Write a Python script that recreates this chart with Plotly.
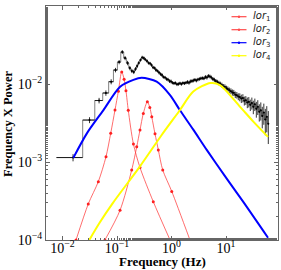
import plotly.graph_objects as go

# ---------------- data ----------------
freq = [0.0156, 0.0313, 0.0469, 0.0625, 0.0781, 0.0938, 0.1094, 0.125, 0.1406, 0.1563,
        0.1719, 0.1875, 0.2031, 0.2188, 0.2344, 0.25,
        0.27, 0.29, 0.31, 0.33, 0.355, 0.38, 0.405, 0.43, 0.46, 0.49, 0.52, 0.555, 0.59,
        0.63, 0.67, 0.71, 0.76, 0.81, 0.86, 0.92, 0.98, 1.04, 1.11, 1.18, 1.26, 1.34,
        1.43, 1.52, 1.62, 1.73, 1.84, 1.96, 2.09, 2.22, 2.37, 2.52, 2.69, 2.86, 3.05,
        3.25, 3.46, 3.69, 3.93, 4.19, 4.46, 4.75, 5.06, 5.39, 5.75, 6.12, 6.52, 6.95,
        7.4, 7.89, 8.4, 8.95, 9.54, 10.2, 10.8, 11.5, 12.3, 13.1, 13.9, 14.8, 15.8,
        16.8, 17.9, 19.1, 20.4, 21.7, 23.1, 24.6, 26.2, 27.9, 29.8, 31.7, 33.8, 36.0,
        38.3, 40.8, 43.5, 46.3, 49.4, 52.6, 56.0, 59.7]
power = [0.00114, 0.00345, 0.00614, 0.00767, 0.0107, 0.0151, 0.0191, 0.0257, 0.0215, 0.0186,
         0.0160, 0.0147, 0.0143, 0.0156, 0.0170, 0.0186,
         0.0203, 0.0219, 0.0215, 0.0206, 0.0197, 0.0186, 0.0183, 0.0175, 0.0163, 0.0160,
         0.0151, 0.0147, 0.0140, 0.0134, 0.0130, 0.0123, 0.0121, 0.0116, 0.0114, 0.0109,
         0.0108, 0.0104, 0.0102, 0.0103, 0.0099, 0.0100, 0.0102, 0.0100, 0.0103, 0.0102,
         0.0104, 0.0106, 0.0104, 0.0108, 0.0109, 0.0111, 0.0113, 0.0111, 0.0114, 0.0116,
         0.0118, 0.0119, 0.0118, 0.0123, 0.0121, 0.0127, 0.0125, 0.0121, 0.0116, 0.0113,
         0.0109, 0.0106, 0.0103, 0.0100, 0.0097, 0.0093, 0.0092, 0.0088, 0.0086, 0.0083,
         0.0081, 0.0078, 0.0077, 0.0073, 0.0072, 0.0069, 0.0068, 0.0065, 0.0066, 0.0061,
         0.0062, 0.0058, 0.0059, 0.0054, 0.0057, 0.0051, 0.0055, 0.0048, 0.0051, 0.0044,
         0.0046, 0.0039, 0.0043, 0.0035, 0.0038, 0.0031]
power_err = [0.00012, 0.0003, 0.0005, 0.0006, 0.0008, 0.0010, 0.0012, 0.0015, 0.0013, 0.0012,
             0.0010, 0.0009, 0.0009, 0.0009, 0.0010, 0.0010,
             0.0010, 0.0011, 0.0011, 0.0010, 0.0010, 0.0009, 0.0009, 0.0009, 0.0008, 0.0008,
             0.0008, 0.0007, 0.0007, 0.0007, 0.0007, 0.0006, 0.0006, 0.0006, 0.0006, 0.0006,
             0.0006, 0.0005, 0.0005, 0.0005, 0.0005, 0.0005, 0.0005, 0.0005, 0.0005, 0.0005,
             0.0005, 0.0006, 0.0006, 0.0006, 0.0006, 0.0006, 0.0006, 0.0006, 0.0006, 0.0006,
             0.0006, 0.0006, 0.0006, 0.0007, 0.0007, 0.0007, 0.0007, 0.0007, 0.0007, 0.0007,
             0.0007, 0.0007, 0.0007, 0.0007, 0.0007, 0.0007, 0.0007, 0.0007, 0.0007, 0.0007,
             0.0007, 0.0007, 0.0007, 0.0007, 0.0007, 0.0007, 0.0008, 0.0008, 0.0008, 0.0008,
             0.0008, 0.0009, 0.0009, 0.0009, 0.0010, 0.0010, 0.0010, 0.0011, 0.0011, 0.0011,
             0.0012, 0.0012, 0.0013, 0.0013, 0.0014, 0.0014]

lor1_f = [0.0177, 0.0297, 0.0454, 0.0628, 0.0766, 0.0918, 0.106, 0.122, 0.135, 0.146,
          0.161, 0.2, 0.264, 0.463, 0.94]
lor1_p = [0.0001, 0.00029, 0.00056, 0.00117, 0.00233, 0.00464, 0.0081, 0.0143, 0.0115, 0.0082,
          0.0046, 0.0017, 0.00085, 0.00031, 0.0001]

lor2_f = [0.06, 0.1135, 0.186, 0.23, 0.264, 0.304, 0.36, 0.40, 0.434, 0.498, 0.573, 0.69,
          1.01, 2.18]
lor2_p = [0.0001, 0.00024, 0.00079, 0.00157, 0.00257, 0.0042, 0.0059, 0.0050, 0.0038, 0.0023,
          0.00143, 0.00079, 0.00042, 0.0001]

lor3_f = [0.0158, 0.028, 0.056, 0.114, 0.2, 0.284, 0.535, 0.94, 1.43, 2.51, 4.43, 10, 20, 59]
lor3_p = [0.00113, 0.00233, 0.0046, 0.0092, 0.0113, 0.0120, 0.0107, 0.0072, 0.0046, 0.0026,
          0.00143, 0.00063, 0.00032, 0.000107]

lor4_f = [0.031, 0.0473, 0.083, 0.264, 0.66, 1.43, 2.51, 5.2, 7.76, 18.1, 31.7, 59]
lor4_p = [0.0001, 0.000164, 0.000295, 0.00088, 0.00222, 0.00464, 0.0080, 0.0103, 0.0097,
          0.0051, 0.0033, 0.0021]

x_tickvals = [0.01, 0.1, 1, 10]
x_ticktext = ["10<sup>−2</sup>", "10<sup>−1</sup>", "10<sup>0</sup>", "10<sup>1</sup>"]
y_tickvals = [0.0001, 0.001, 0.01, 0.1]
y_ticktext = ["10<sup>−4</sup>", "10<sup>−3</sup>", "10<sup>−2</sup>", "10<sup>−1</sup>"]

legend_names = ["<i>lor</i><sub>1</sub>", "<i>lor</i><sub>2</sub>",
                "<i>lor</i><sub>3</sub>", "<i>lor</i><sub>4</sub>"]
legend_colors = ["#ff4a4a", "#ff4a4a", "#0000ff", "#ffff00"]

# ---------------- derived bin geometry ----------------
n = len(freq)
edges = [freq[0] - (freq[1] - freq[0]) / 2]
for i in range(n - 1):
    edges.append((freq[i] + freq[i + 1]) / 2)
edges.append(freq[-1] + (freq[-1] - freq[-2]) / 2)
xerr_plus = [edges[i + 1] - freq[i] for i in range(n)]
xerr_minus = [freq[i] - edges[i] for i in range(n)]
step_x, step_y = [], []
for i in range(n):
    step_x += [edges[i], edges[i + 1]]
    step_y += [power[i], power[i]]

fig = go.Figure()
fig.add_trace(go.Scatter(x=step_x, y=step_y, mode="lines",
                         line=dict(color="#808080", width=1), showlegend=False,
                         hoverinfo="skip"))
fig.add_trace(go.Scatter(x=freq, y=power, mode="markers",
                         marker=dict(color="black", size=2),
                         error_x=dict(type="data", symmetric=False, array=xerr_plus,
                                      arrayminus=xerr_minus, color="black",
                                      thickness=0.8, width=0),
                         error_y=dict(type="data", array=power_err, color="black",
                                      thickness=0.8, width=0),
                         showlegend=False))

red_line = "rgba(255,60,60,0.75)"
fig.add_trace(go.Scatter(x=lor1_f, y=lor1_p, mode="lines+markers", name=legend_names[0],
                         line=dict(color=red_line, width=1, shape="spline", smoothing=0.8),
                         marker=dict(color="#ff2020", size=3), showlegend=False))
fig.add_trace(go.Scatter(x=lor2_f, y=lor2_p, mode="lines+markers", name=legend_names[1],
                         line=dict(color=red_line, width=1, shape="spline", smoothing=0.8),
                         marker=dict(color="#ff2020", size=3), showlegend=False))
fig.add_trace(go.Scatter(x=lor3_f, y=lor3_p, mode="lines", name=legend_names[2],
                         line=dict(color="#0000ff", width=2, shape="spline", smoothing=0.8),
                         showlegend=False))
fig.add_trace(go.Scatter(x=lor4_f, y=lor4_p, mode="lines", name=legend_names[3],
                         line=dict(color="#ffff00", width=2, shape="spline", smoothing=0.8),
                         showlegend=False))

# ---------------- layout ----------------
L, R, T, B = 46, 3, 6, 30
W, H = 281, 270
pw, ph = W - L - R, H - T - B


def px_x(px):
    return (px - L) / pw


def px_y(py):
    return (H - B - py) / ph


serif = "Liberation Serif"
axis_common = dict(type="log", showline=True, linecolor="#666666", linewidth=1, mirror="ticks",
                   ticks="inside", ticklen=4, tickcolor="#666666", showgrid=False,
                   zeroline=False, automargin=False,
                   tickfont=dict(family=serif, size=14, color="black"),
                   minor=dict(ticks="inside", ticklen=2, tickcolor="#666666", showgrid=False))

shapes = []
annotations = []
# manual legend
rows = [16.7, 29.7, 42.7, 55.7]
for name, col, ry in zip(legend_names, legend_colors, rows):
    shapes.append(dict(type="line", xref="paper", yref="paper",
                       x0=px_x(231.5), x1=px_x(246.5), y0=px_y(ry), y1=px_y(ry),
                       line=dict(color=col, width=1.2)))
    shapes.append(dict(type="circle", xref="paper", yref="paper",
                       x0=px_x(237.8), x1=px_x(240.2), y0=px_y(ry + 1.2), y1=px_y(ry - 1.2),
                       fillcolor=col, line=dict(width=0)))
    annotations.append(dict(xref="paper", yref="paper", x=px_x(251), y=px_y(ry),
                            xanchor="left", yanchor="middle", showarrow=False, text=name,
                            font=dict(family="DejaVu Sans", size=10, color="#222222")))

annotations.append(dict(xref="paper", yref="paper", x=0.5, y=px_y(270), xanchor="center",
                        yanchor="bottom", showarrow=False, text="<b>Frequency (Hz)</b>",
                        borderpad=0,
                        font=dict(family=serif, size=13, color="black")))
annotations.append(dict(xref="paper", yref="paper", x=px_x(8), y=px_y(124), xanchor="center",
                        yanchor="middle", showarrow=False, textangle=-90,
                        text="<b>Frequency X Power</b>",
                        font=dict(family=serif, size=12.5, color="black")))

fig.update_layout(
    width=W, height=H,
    margin=dict(l=L, r=R, t=T, b=B),
    paper_bgcolor="white", plot_bgcolor="white",
    xaxis=dict(range=[-2.303, 1.954], tickvals=x_tickvals, ticktext=x_ticktext,
               ticklabelstandoff=-5, **axis_common),
    yaxis=dict(range=[-4, -1], tickvals=y_tickvals, ticktext=y_ticktext, **axis_common),
    showlegend=False,
    shapes=shapes,
    annotations=annotations,
)

fig.write_html("out.html", config={"displayModeBar": False},
               post_script="document.body.style.margin='0';document.body.style.padding='0';")
